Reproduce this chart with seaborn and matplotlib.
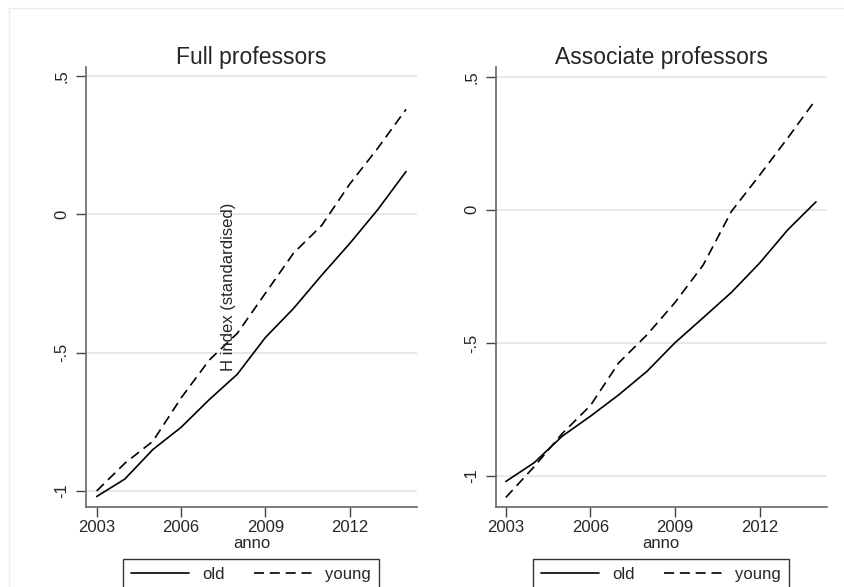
import numpy as np
import pandas as pd
import matplotlib
matplotlib.use("Agg")
import matplotlib.pyplot as plt
from matplotlib.lines import Line2D
from matplotlib.patches import Rectangle
import seaborn as sns

# valori
anni = list(range(2003, 2015))
full_old = [-1.02, -0.957, -0.85, -0.77, -0.67, -0.578, -0.445, -0.34, -0.22, -0.105, 0.018, 0.155]
full_young = [-1.0, -0.90, -0.82, -0.664, -0.527, -0.43, -0.285, -0.14, -0.04, 0.11, 0.24, 0.38]
assoc_old = [-1.02, -0.95, -0.85, -0.775, -0.695, -0.607, -0.499, -0.405, -0.31, -0.20, -0.075, 0.03]
assoc_young = [-1.08, -0.965, -0.84, -0.735, -0.575, -0.47, -0.348, -0.207, -0.006, 0.13, 0.27, 0.415]

titoli = ["Full professors", "Associate professors"]
gruppi = ["old", "young"]
xticks = [2003, 2006, 2009, 2012]
yticks = [-1, -0.5, 0, 0.5]
ytick_labels = ["-1", "-.5", "0", ".5"]

sns.set_theme(style="white")
plt.rcParams['font.family'] = ['Liberation Sans', 'DejaVu Sans']

def long_df(old, young):
    return pd.DataFrame({'anno': anni * 2,
                         'h': old + young,
                         'gruppo': ['old'] * len(anni) + ['young'] * len(anni)})

dati = [long_df(full_old, full_young), long_df(assoc_old, assoc_young)]

fig = plt.figure(figsize=(8.45, 5.87), dpi=100)
fig.patch.set_facecolor('white')
# cornice leggera dell'area grafico
fig.patches.append(Rectangle((9 / 845, -0.1), 1.2, 1.1 - 8 / 587, transform=fig.transFigure,
                             fill=False, edgecolor='#ececec', linewidth=1.0))

pos = [[86 / 845, 1 - 507 / 587, 331 / 845, 440.3 / 587],
       [496 / 845, 1 - 507 / 587, 330.7 / 845, 440.3 / 587]]
ylims = [(-1.058, 0.534), (-1.116, 0.5375)]
xlims = [(2002.62, 2014.39), (2002.65, 2014.38)]
leg_x = [250.9 / 845, 661 / 845]

for i in range(2):
    ax = fig.add_axes(pos[i])
    sns.lineplot(data=dati[i], x='anno', y='h', style='gruppo', color='black',
                 dashes={'old': '', 'young': (6, 3.5)}, linewidth=1.2, ax=ax, legend=False)
    ax.set_xlim(*xlims[i])
    ax.set_ylim(*ylims[i])
    ax.set_xticks(xticks)
    ax.set_yticks(yticks)
    ax.set_yticklabels(ytick_labels, rotation=90, va='center')
    ax.tick_params(axis='both', labelsize=12, length=7, width=1, color='#444444',
                   direction='out', left=True, bottom=True)
    ax.tick_params(axis='x', pad=2.5)
    ax.tick_params(axis='y', pad=5)
    ax.yaxis.grid(True, color='#e6e6e6', linewidth=1.3)
    ax.set_axisbelow(True)
    for s in ['top', 'right']:
        ax.spines[s].set_visible(False)
    for s in ['left', 'bottom']:
        ax.spines[s].set_color('#666666')
        ax.spines[s].set_linewidth(1.2)
    ax.set_title(titoli[i], fontsize=16.5, pad=2)
    ax.set_xlabel('anno', fontsize=12, labelpad=0.5)
    ax.set_ylabel('')
    handles = [Line2D([], [], color='black', linewidth=1.2),
               Line2D([], [], color='black', linewidth=1.2, linestyle=(0, (6, 3.5)))]
    ax.legend(handles, gruppi, loc='upper center', bbox_to_anchor=(leg_x[i], 1 - 559.3 / 587),
              bbox_transform=fig.transFigure, ncol=2, frameon=True, fancybox=False,
              edgecolor='black', fontsize=12, handlelength=3.5, handletextpad=0.78,
              columnspacing=1.75, borderpad=0.48, borderaxespad=0)

# etichetta asse y (posizionata al centro come nell'originale)
fig.text(229 / 845, 1 - 286.5 / 587, 'H index (standardised)', rotation=90,
         ha='center', va='center', fontsize=12)

plt.savefig('out.png', dpi=100)
